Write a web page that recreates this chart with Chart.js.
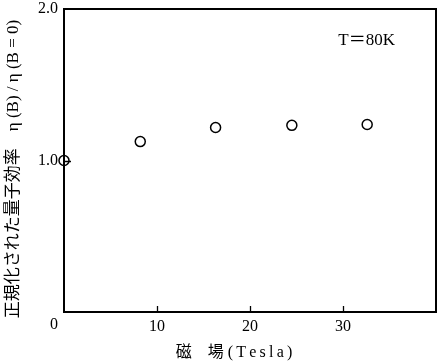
<!DOCTYPE html>
<html>
<head>
<meta charset="utf-8">
<script src="https://cdn.jsdelivr.net/npm/chart.js@4"></script>
<style>
html,body{margin:0;padding:0;background:#fff;}
#wrap{width:438px;height:362px;position:relative;}
</style>
</head>
<body>
<div id="wrap"><canvas id="c" width="438" height="362"></canvas></div>
<script>
const fieldTesla = [0, 8.2, 16.3, 24.5, 32.6];
const normEfficiency = [1.0, 1.125, 1.218, 1.232, 1.238];
const xTickValues = [0, 10, 20, 30];
const yTickValues = [0, 1.0, 2.0];
const xTitle = '磁　場 (\u2009T\u2009e\u2009s\u2009l\u2009a\u2009)\u3000\u3000';
const yTitle = '正規化された量子効率　η (B) / η (B = 0)\u3000';
const annotation = 'T＝80K';

const SERIF = "'Liberation Serif', 'DejaVu Serif', 'Noto Sans CJK JP', serif";

const framePlugin = {
  id: 'frame',
  afterDraw(chart) {
    const {ctx, chartArea: a, scales: {x, y}} = chart;
    ctx.save();
    ctx.strokeStyle = '#000';
    ctx.lineWidth = 2;
    ctx.strokeRect(a.left, a.top, a.right - a.left, a.bottom - a.top);
    ctx.lineWidth = 1.3;
    ctx.beginPath();
    xTickValues.forEach(v => {
      if (v === 0) return;
      const px = Math.round(x.getPixelForValue(v)) + 0.5;
      ctx.moveTo(px, a.bottom);
      ctx.lineTo(px, a.bottom - 6);
    });
    yTickValues.forEach(v => {
      if (v === 0 || v === 2) return;
      const py = Math.round(y.getPixelForValue(v)) + 0.5;
      ctx.moveTo(a.left, py);
      ctx.lineTo(a.left + 7, py);
    });
    ctx.stroke();
    ctx.fillStyle = '#000';
    ctx.font = '16px ' + SERIF;
    ctx.textAlign = 'center';
    ctx.textBaseline = 'middle';
    ctx.fillText('0', x.getPixelForValue(0) - 10, a.bottom + 13);
    ctx.textAlign = 'left';
    ctx.font = '17px ' + SERIF;
    ctx.fillText(annotation, x.getPixelForValue(29.5), y.getPixelForValue(1.795));
    ctx.restore();
  }
};

new Chart(document.getElementById('c'), {
  type: 'scatter',
  data: {
    datasets: [{
      data: fieldTesla.map((v, i) => ({x: v, y: normEfficiency[i]})),
      pointStyle: 'circle',
      pointRadius: 5,
      pointBorderWidth: 1.5,
      pointBorderColor: '#000',
      pointBackgroundColor: '#fff',
      showLine: false,
      clip: false
    }]
  },
  options: {
    responsive: false,
    animation: false,
    events: [],
    layout: {autoPadding: false, padding: {top: 9, right: 2, left: 0, bottom: 0}},
    plugins: {legend: {display: false}, tooltip: {enabled: false}},
    scales: {
      x: {
        type: 'linear',
        min: 0, max: 40,
        afterBuildTicks(s) { s.ticks = xTickValues.concat([40]).map(v => ({value: v})); },
        afterFit(s) { s.height = 50; s.paddingLeft = 0; s.paddingRight = 0; },
        grid: {display: false, drawTicks: false},
        border: {display: false},
        ticks: {
          padding: 5,
          color: '#000',
          maxRotation: 0,
          font: {family: SERIF, size: 16},
          callback: v => (v === 0 || v === 40) ? '' : String(v)
        },
        title: {
          display: true,
          text: xTitle,
          color: '#000',
          font: {family: SERIF, size: 16},
          padding: {top: 1, bottom: 0}
        }
      },
      y: {
        type: 'linear',
        min: 0, max: 2,
        afterBuildTicks(s) { s.ticks = yTickValues.map(v => ({value: v})); },
        afterFit(s) { s.width = 64; s.paddingTop = 0; s.paddingBottom = 0; },
        grid: {display: false, drawTicks: false},
        border: {display: false},
        ticks: {
          padding: 6,
          color: '#000',
          font: {family: SERIF, size: 16},
          callback: v => v === 0 ? '' : v.toFixed(1)
        },
        title: {
          display: true,
          text: yTitle,
          color: '#000',
          font: {family: SERIF, size: 17},
          padding: {top: 3, bottom: 0}
        }
      }
    }
  },
  plugins: [framePlugin]
});
</script>
</body>
</html>
